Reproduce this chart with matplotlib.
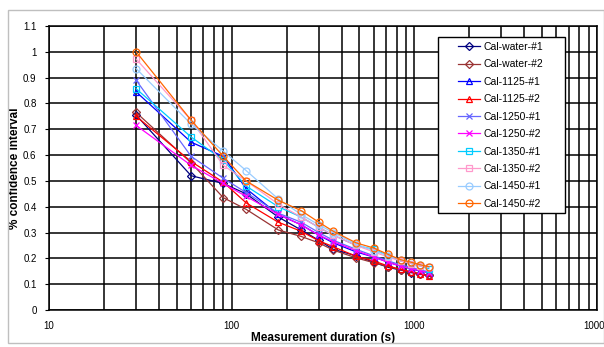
import matplotlib
matplotlib.use("Agg")
import matplotlib.pyplot as plt
from matplotlib.patches import Rectangle
from matplotlib.ticker import FixedLocator, FixedFormatter, LogLocator, NullFormatter

plt.rcParams['font.family'] = ['Liberation Sans', 'DejaVu Sans']

times = [30, 60, 90, 120, 180, 240, 300, 360, 480, 600, 720, 840, 960, 1080, 1200]

cal_water_1 = [0.755, 0.52, 0.49, 0.45, 0.36, 0.31, 0.27, 0.235, 0.21, 0.185, 0.165, 0.155, 0.145, 0.14, 0.135]
cal_water_2 = [0.765, 0.57, 0.435, 0.39, 0.31, 0.285, 0.26, 0.232, 0.202, 0.183, 0.168, 0.155, 0.147, 0.14, 0.134]
cal_1125_1 = [0.845, 0.65, 0.595, 0.47, 0.37, 0.33, 0.29, 0.26, 0.225, 0.205, 0.185, 0.17, 0.16, 0.15, 0.145]
cal_1125_2 = [0.75, 0.575, 0.495, 0.415, 0.34, 0.305, 0.268, 0.245, 0.208, 0.19, 0.17, 0.158, 0.148, 0.14, 0.132]
cal_1250_1 = [0.89, 0.595, 0.51, 0.455, 0.375, 0.34, 0.3, 0.27, 0.235, 0.21, 0.19, 0.175, 0.165, 0.155, 0.148]
cal_1250_2 = [0.715, 0.56, 0.49, 0.44, 0.37, 0.33, 0.29, 0.265, 0.23, 0.205, 0.185, 0.17, 0.16, 0.152, 0.145]
cal_1350_1 = [0.857, 0.67, 0.58, 0.48, 0.4, 0.36, 0.32, 0.29, 0.25, 0.235, 0.21, 0.19, 0.18, 0.17, 0.16]
cal_1350_2 = [0.972, 0.735, 0.56, 0.5, 0.41, 0.36, 0.32, 0.29, 0.25, 0.225, 0.205, 0.19, 0.18, 0.17, 0.165]
cal_1450_1 = [0.935, 0.72, 0.615, 0.54, 0.43, 0.37, 0.33, 0.3, 0.255, 0.23, 0.21, 0.195, 0.185, 0.175, 0.165]
cal_1450_2 = [1.0, 0.735, 0.595, 0.5, 0.425, 0.385, 0.34, 0.305, 0.26, 0.24, 0.215, 0.195, 0.185, 0.175, 0.168]

series_names = ['Cal-water-#1', 'Cal-water-#2', 'Cal-1125-#1', 'Cal-1125-#2', 'Cal-1250-#1',
                'Cal-1250-#2', 'Cal-1350-#1', 'Cal-1350-#2', 'Cal-1450-#1', 'Cal-1450-#2']
series_values = [cal_water_1, cal_water_2, cal_1125_1, cal_1125_2, cal_1250_1,
                 cal_1250_2, cal_1350_1, cal_1350_2, cal_1450_1, cal_1450_2]
colors = ['#000080', '#993333', '#0000FF', '#FF0000', '#6666FF',
          '#FF00FF', '#00CCFF', '#FF99CC', '#99CCFF', '#FF6600']
markers = ['D', 'D', '^', '^', 'x', 'x', 's', 's', 'o', 'o']
msizes = [4, 4, 5, 5, 5, 5, 5, 5, 5, 5]

y_ticks = [0, 0.1, 0.2, 0.3, 0.4, 0.5, 0.6, 0.7, 0.8, 0.9, 1.0, 1.1]
y_labels = ['0', '0.1', '0.2', '0.3', '0.4', '0.5', '0.6', '0.7', '0.8', '0.9', '1', '1.1']
x_ticks = [10, 100, 1000, 10000]
x_labels = ['10', '100', '1000', '10000']

fig = plt.figure(figsize=(6.04, 3.47), dpi=100)
fig.patches.append(Rectangle((8/604, 1-343/347), 596/604, 333/347, transform=fig.transFigure,
                             fill=False, edgecolor='#BFBFBF', linewidth=1.0))
ax = fig.add_axes([49/604, 1-310/347, 548/604, 284/347])

for name, vals, c, m, ms in zip(series_names, series_values, colors, markers, msizes):
    ax.plot(times, vals, color=c, marker=m, markersize=ms, markerfacecolor='none',
            markeredgecolor=c, markeredgewidth=0.9, linewidth=0.9, label=name, zorder=3)

ax.set_xscale('log')
ax.set_xlim(10, 10000)
ax.set_ylim(0, 1.1)
ax.xaxis.set_major_locator(FixedLocator(x_ticks))
ax.xaxis.set_major_formatter(FixedFormatter(x_labels))
ax.xaxis.set_minor_locator(LogLocator(base=10, subs=range(2, 10)))
ax.xaxis.set_minor_formatter(NullFormatter())
ax.yaxis.set_major_locator(FixedLocator(y_ticks))
ax.yaxis.set_major_formatter(FixedFormatter(y_labels))

ax.grid(True, which='major', axis='both', color='black', linewidth=1.1, zorder=1)
ax.grid(True, which='minor', axis='x', color='black', linewidth=1.1, zorder=1)
ax.set_axisbelow(True)
for s in ax.spines.values():
    s.set_color('black')
    s.set_linewidth(1.1)

ax.tick_params(axis='both', which='major', labelsize=7, colors='black', length=3, direction='out', pad=6)
ax.tick_params(axis='x', which='minor', length=0)
ax.tick_params(axis='x', which='major', length=0, pad=8)

ax.set_xlabel('Measurement duration (s)', fontsize=8.5, fontweight='bold')
ax.set_ylabel('% confidence interval', fontsize=8.5, fontweight='bold')
ax.yaxis.set_label_coords(-0.052, 0.5)
ax.xaxis.set_label_coords(0.5, -0.078)

# legend frame (drawn as a box behind the legend entries)
ax.add_patch(Rectangle((0.7099, 0.3415), 0.2317, 0.6198, transform=ax.transAxes,
                       facecolor='white', edgecolor='black', linewidth=1.0, zorder=4,
                       clip_on=False))
leg = ax.legend(loc='upper left', bbox_to_anchor=(0.7464, 0.944), fontsize=7.5, frameon=False,
                borderaxespad=0, handlelength=2.1, handletextpad=0.3,
                labelspacing=0.715, borderpad=0)
leg.set_zorder(5)

fig.savefig('out.png', dpi=100)
